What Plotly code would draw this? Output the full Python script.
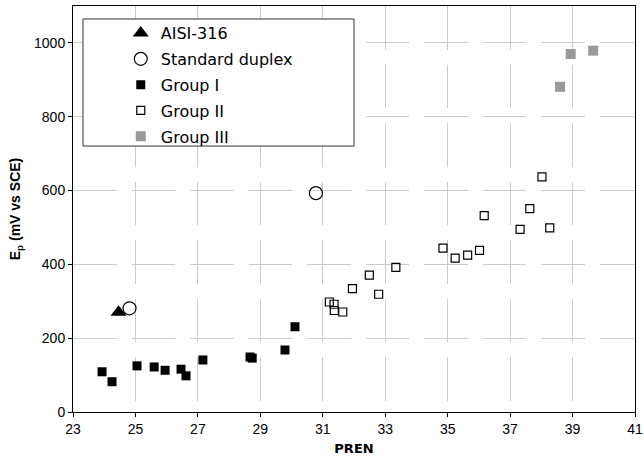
import plotly.graph_objects as go

# ---- data ----
aisi_pren = [24.46]
aisi_ep = [270]

duplex_pren = [24.81, 30.78]
duplex_ep = [281, 593]

g1_pren = [23.93, 24.25, 25.05, 25.6, 25.95, 26.46, 26.62, 27.16, 28.67, 28.74, 29.79, 30.11]
g1_ep = [109, 82, 125, 122, 113, 116, 98, 141, 149, 146, 168, 231]

g2_pren = [31.21, 31.36, 31.37, 31.64, 31.95, 32.49, 32.79, 33.34, 34.85, 35.24, 35.64, 36.02,
           36.17, 37.32, 37.63, 38.02, 38.27]
g2_ep = [298, 292, 275, 271, 334, 371, 319, 392, 444, 417, 425, 438,
         532, 495, 551, 637, 499]

g3_pren = [38.94, 39.66, 38.6]
g3_ep = [970, 979, 881]

x_ticks = [23, 25, 27, 29, 31, 33, 35, 37, 39, 41]
y_ticks = [0, 200, 400, 600, 800, 1000]

fig = go.Figure()
fig.add_trace(go.Scatter(x=aisi_pren, y=aisi_ep, mode="markers", name="AISI-316",
                         legendgroup="a",
                         marker=dict(symbol="triangle-up", size=14, color="black")))
fig.add_trace(go.Scatter(x=duplex_pren, y=duplex_ep, mode="markers", name="Standard duplex",
                         legendgroup="b",
                         marker=dict(symbol="circle-open", size=13, color="black",
                                     line=dict(width=1.2, color="black"))))
fig.add_trace(go.Scatter(x=g1_pren, y=g1_ep, mode="markers", name="Group I",
                         legendgroup="c",
                         marker=dict(symbol="square", size=9, color="black")))
fig.add_trace(go.Scatter(x=g2_pren, y=g2_ep, mode="markers", name="Group II",
                         legendgroup="d",
                         marker=dict(symbol="square-open", size=8, color="black",
                                     line=dict(width=1.2, color="black"))))
fig.add_trace(go.Scatter(x=g3_pren, y=g3_ep, mode="markers", name="Group III",
                         legendgroup="e",
                         marker=dict(symbol="square", size=10, color="#999999")))

grid = dict(showgrid=True, gridcolor="#cccccc", gridwidth=1, griddash="43.5px,15px")

fig.update_xaxes(range=[23, 41], tickvals=x_ticks, ticktext=[str(v) for v in x_ticks],
                 showline=True, linecolor="black", linewidth=1, mirror=True,
                 ticks="outside", ticklen=4, tickcolor="black", zeroline=False,
                 automargin=False,
                 tickfont=dict(family="Liberation Sans, Arial", size=14, color="black"),
                 title=dict(text="<b>PREN</b>", standoff=8,
                            font=dict(family="DejaVu Sans", size=13, color="black")),
                 **grid)
fig.update_yaxes(range=[0, 1100], tickvals=y_ticks, ticktext=[str(v) for v in y_ticks],
                 showline=True, linecolor="black", linewidth=1, mirror=True,
                 ticks="outside", ticklen=4, tickcolor="black", zeroline=False,
                 automargin=False,
                 tickfont=dict(family="Liberation Sans, Arial", size=14, color="black"),
                 title=dict(text="<b>E<sub>p</sub> (mV vs SCE)</b>", standoff=10,
                            font=dict(family="Liberation Sans, Arial", size=14, color="black")),
                 **grid)

# legend frame
fig.add_shape(type="rect", xref="paper", yref="paper", x0=0.0178, x1=0.5, y0=0.655, y1=0.968,
              line=dict(color="#333333", width=1), fillcolor="white", layer="above")

fig.update_layout(
    width=644, height=461,
    margin=dict(l=73, r=9, t=6, b=49, autoexpand=False),
    plot_bgcolor="white", paper_bgcolor="white",
    showlegend=True,
    legend=dict(x=0.085, y=0.975, xanchor="left", yanchor="top",
                bgcolor="rgba(0,0,0,0)", borderwidth=0, tracegroupgap=2,
                font=dict(family="DejaVu Sans", size=16, color="black")),
)

fig.write_html("out.html", config={"displayModeBar": False},
               post_script="document.body.style.margin='0';")
